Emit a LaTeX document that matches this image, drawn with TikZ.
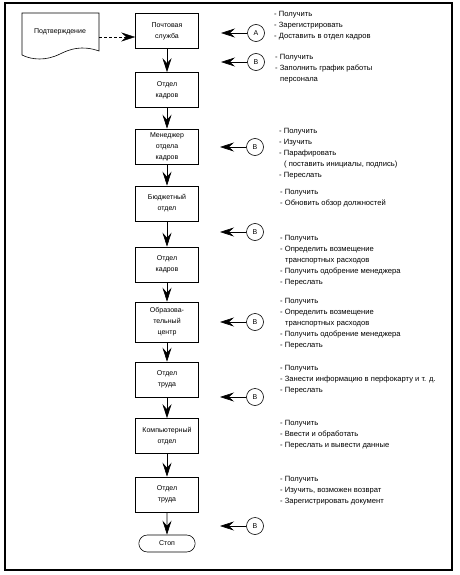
\documentclass[tikz,border=0pt]{standalone}
\usepackage{fontspec}
\setmainfont{Liberation Sans}
\usetikzlibrary{arrows.meta,shapes.misc}
\begin{document}
\begin{tikzpicture}[x=1pt,y=-1pt,
    every node/.style={font=\fontsize{7}{11}\selectfont},
    box/.style={draw,line width=0.6pt,minimum width=63pt,
      minimum height=35pt,inner sep=2pt,align=center},
    circ/.style={draw,circle,line width=0.6pt,minimum size=17pt,inner sep=0pt},
    notes/.style={anchor=north west,align=left,inner sep=0pt,
      font=\fontsize{7.6}{11}\selectfont},
    flow/.style={line width=0.6pt,
      -{Stealth[length=14pt,width=9pt,inset=5pt]}}]
    \useasboundingbox (0,0) rectangle (459,575);
    \draw[line width=1.3pt] (5,3) rectangle (452,570);
    % document
    \draw[line width=0.6pt] (22,13) -- (99,13) -- (99,51)
      .. controls (82,45) and (70,49) .. (60,54)
      .. controls (46,61) and (32,60) .. (22,55) -- cycle;
    \node (doc) at (60,32) {Подтверждение};
    \coordinate (docout) at (99,37);
    % boxes
    \node[box] (post) at (167,31) {Почтовая\\служба};
    \node[box] (hr1) at (167,90) {Отдел\\кадров};
    \node[box] (mgr) at (167,146.5) {Менеджер\\отдела\\кадров};
    \node[box] (budget) at (167,203.5) {Бюджетный\\отдел};
    \node[box] (hr2) at (167,264.5) {Отдел\\кадров};
    \node[box,minimum height=40pt] (edu) at (167,322) {Образова-\\тельный\\центр};
    \node[box] (lab1) at (167,379.5) {Отдел\\труда};
    \node[box] (comp) at (167,436) {Компьютерный\\отдел};
    \node[box] (lab2) at (167,494.5) {Отдел\\труда};
    \node[draw,rounded rectangle,line width=0.6pt,minimum width=63pt,
      minimum height=17pt] (stop) at (167,543.5) {Стоп};
    \draw[flow,densely dashed,line width=0.4pt] (docout) -- (post.west |- docout);
    \draw[flow] (post) -- (hr1);
    \draw[flow] (hr1) -- (mgr);
    \draw[flow] (mgr) -- (budget);
    \draw[flow] (budget) -- (hr2);
    \draw[flow] (hr2) -- (edu);
    \draw[flow] (edu) -- (lab1);
    \draw[flow] (lab1) -- (comp);
    \draw[flow] (comp) -- (lab2);
    \draw[flow] (lab2) -- (stop);
    % connectors
    \node[circ] (ca) at (256,33) {A};
    \node[circ] (cb1) at (256,62) {B};
    \node[circ] (cb2) at (255,147) {B};
    \node[circ] (cb3) at (255,232) {B};
    \node[circ] (cb4) at (255,322) {B};
    \node[circ] (cb5) at (255,397) {B};
    \node[circ] (cb6) at (255,526) {B};
    \foreach \c in {ca,cb1,cb2,cb3,cb4,cb5,cb6}
      \draw[flow] (\c) -- ([xshift=-35pt]\c.center) coordinate (\c tip);
    % notes
    \node[notes] (n1) at (274,11) {- Получить\\- Зарегистрировать\\- Доставить в отдел кадров};
    \node[notes] (n2) at (275,54) {- Получить\\- Заполнить график работы\\\hspace*{5pt}персонала};
    \node[notes] (n3) at (279,128) {- Получить\\- Изучить\\- Парафировать\\\hspace*{5pt}( поставить инициалы, подпись)\\- Переслать};
    \node[notes] (n4) at (280,189) {- Получить\\- Обновить обзор должностей};
    \node[notes] (n5) at (280,235) {- Получить\\- Определить возмещение\\\hspace*{5pt}транспортных расходов\\- Получить одобрение менеджера\\- Переслать};
    \node[notes] (n6) at (280,298) {- Получить\\- Определить возмещение\\\hspace*{5pt}транспортных расходов\\- Получить одобрение менеджера\\- Переслать};
    \node[notes] (n7) at (280,365) {- Получить\\- Занести информацию в перфокарту и т. д.\\- Переслать};
    \node[notes] (n8) at (280,420) {- Получить\\- Ввести и обработать\\- Переслать и вывести данные};
    \node[notes] (n9) at (280,476) {- Получить\\- Изучить, возможен возврат\\- Зарегистрировать документ};
\end{tikzpicture}
\end{document}
